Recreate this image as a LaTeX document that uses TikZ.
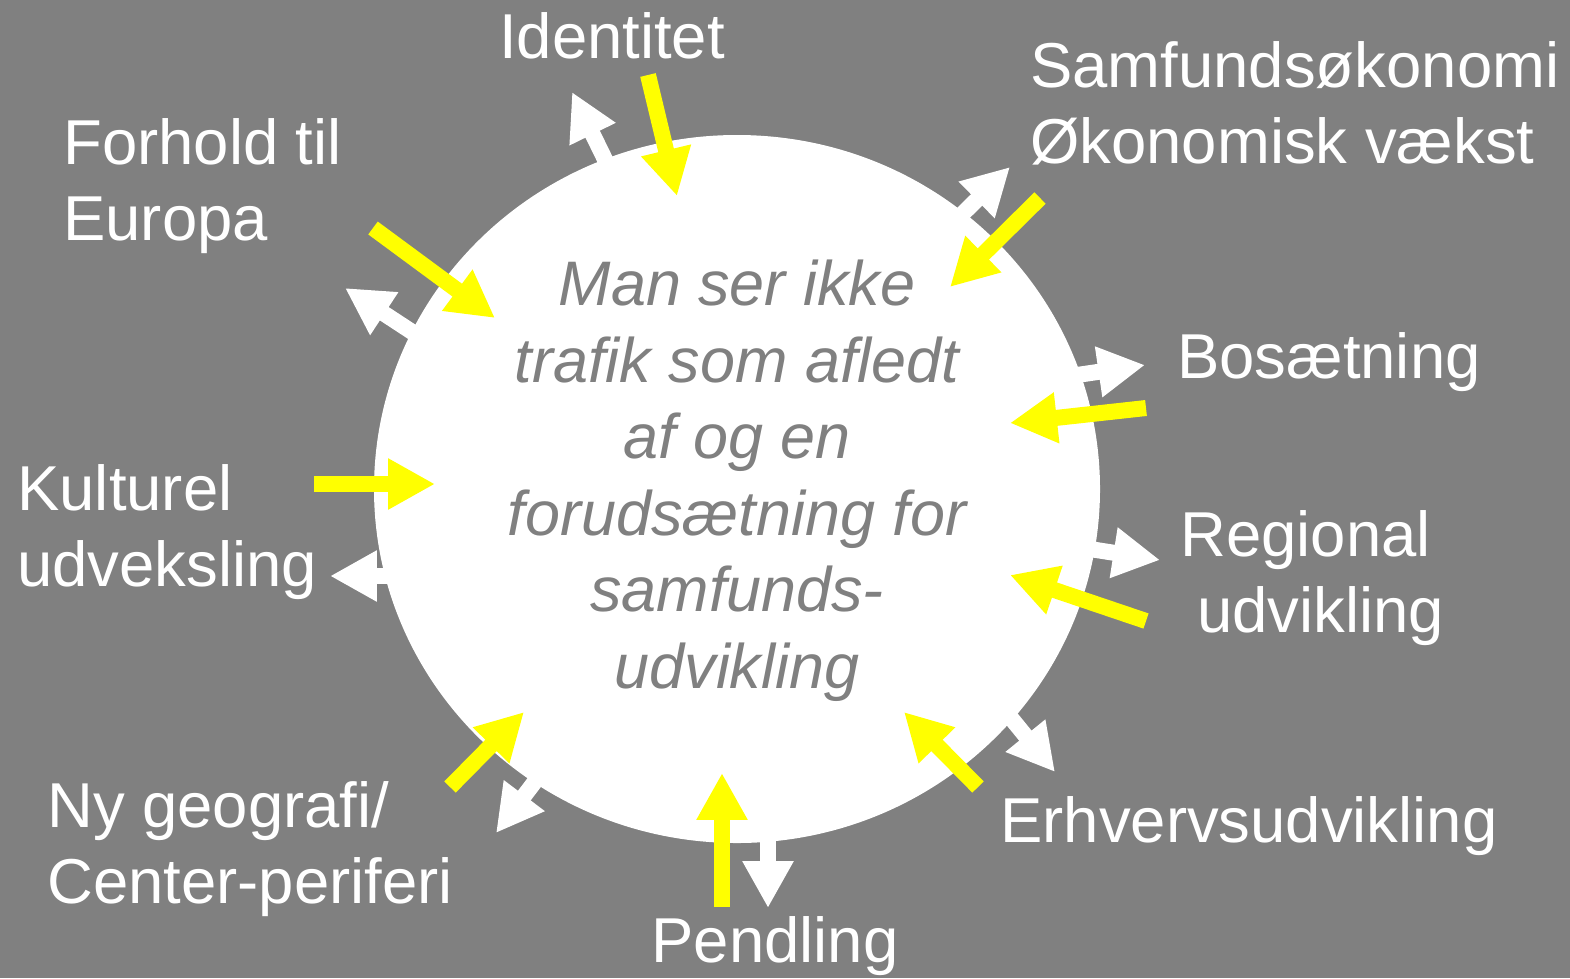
\documentclass[tikz,border=0pt]{standalone}
\usepackage{fontspec}
\setmainfont{Liberation Sans}
\usetikzlibrary{arrows.meta,shapes.geometric}
\definecolor{bggrey}{HTML}{808080}
\definecolor{signyellow}{HTML}{FFFF00}

\begin{document}
\begin{tikzpicture}[x=0.2mm,y=-0.2mm]
	\tikzstyle{topic} = [text=white, inner sep=0pt, align=left, font=\fontsize{36.1}{43.2}\selectfont]
	\tikzstyle{message} = [text=bggrey, inner sep=0pt, align=center, font=\fontsize{35.8}{43.5}\selectfont\itshape]
	\tikzstyle{hub} = [ellipse, fill=white, inner sep=0pt, minimum width=145.2mm, minimum height=141.6mm]
	\tikzstyle{inarrow} = [draw=signyellow, line width=9.1pt, -{Triangle[width=27.3pt,length=26.7pt]}]
	\tikzstyle{outarrow} = [draw=white, line width=9.1pt, -{Triangle[width=27.3pt,length=26.7pt]}]
\useasboundingbox (0,0) rectangle (1570,978);
\fill [bggrey] (0,0) rectangle (1570,978);
\node [hub] at (737,489) (circ) {};
% ends of the arrows
\coordinate (idOut) at (617,184);   \coordinate (idOutTip) at (572,92);
\coordinate (samOut) at (936,240);  \coordinate (samOutTip) at (1010,167);
\coordinate (forOut) at (432,345);  \coordinate (forOutTip) at (345,288);
\coordinate (bosOut) at (1043,380); \coordinate (bosOutTip) at (1145,365);
\coordinate (kulOut) at (420,576);  \coordinate (kulOutTip) at (330,576);
\coordinate (regOut) at (1058,544); \coordinate (regOutTip) at (1160,560);
\coordinate (geoOut) at (552,759);  \coordinate (geoOutTip) at (496,833);
\coordinate (penOut) at (768,820);  \coordinate (penOutTip) at (768,908);
\coordinate (erhOut) at (989,691);  \coordinate (erhOutTip) at (1055,772);
\coordinate (idIn) at (648,75);     \coordinate (idInTip) at (677,196);
\coordinate (samIn) at (1040,198);  \coordinate (samInTip) at (950,287);
\coordinate (forIn) at (373,228);   \coordinate (forInTip) at (495,318);
\coordinate (bosIn) at (1146,408);  \coordinate (bosInTip) at (1010,423);
\coordinate (kulIn) at (314,484);   \coordinate (kulInTip) at (435,484);
\coordinate (regIn) at (1146,621);  \coordinate (regInTip) at (1010,575);
\coordinate (geoIn) at (450,787);   \coordinate (geoInTip) at (524,712);
\coordinate (penIn) at (722,907);   \coordinate (penInTip) at (722,773);
\coordinate (erhIn) at (978,787);   \coordinate (erhInTip) at (904,712);
\path [outarrow] (idOut) -- (idOutTip);
\path [outarrow] (samOut) -- (samOutTip);
\path [outarrow] (forOut) -- (forOutTip);
\path [outarrow] (bosOut) -- (bosOutTip);
\path [outarrow] (kulOut) -- (kulOutTip);
\path [outarrow] (regOut) -- (regOutTip);
\path [outarrow] (geoOut) -- (geoOutTip);
\path [outarrow] (penOut) -- (penOutTip);
\path [outarrow] (erhOut) -- (erhOutTip);
\path [inarrow] (idIn) -- (idInTip);
\path [inarrow] (samIn) -- (samInTip);
\path [inarrow] (forIn) -- (forInTip);
\path [inarrow] (bosIn) -- (bosInTip);
\path [inarrow] (kulIn) -- (kulInTip);
\path [inarrow] (regIn) -- (regInTip);
\path [inarrow] (geoIn) -- (geoInTip);
\path [inarrow] (penIn) -- (penInTip);
\path [inarrow] (erhIn) -- (erhInTip);
% multi-line nodes sit on the baseline of their last line
\node [message, anchor=base] at (737,688) (msg) {Man ser ikke\\trafik som afledt\\af og en\\forudsætning for\\samfunds-\\udvikling};
\node [topic, anchor=base] at (612,58) (identitet) {Identitet};
\node [topic, anchor=base west] at (1030,163) (samfund) {Samfundsøkonomi\\Økonomisk vækst};
\node [topic, anchor=base west] at (63,240) (europa) {Forhold til\\Europa};
\node [topic, anchor=base west] at (1177,378) (bosaet) {Bosætning};
\node [topic, anchor=base west] at (17,586) (kultur) {Kulturel\\udveksling};
\node [topic, anchor=base west] at (1180,632) (region) {Regional\\\hspace*{3.4mm}udvikling};
\node [topic, anchor=base west] at (1000,842) (erhverv) {Erhvervsudvikling};
\node [topic, anchor=base west] at (47,903) (geografi) {Ny geografi/\\Center-periferi};
\node [topic, anchor=base] at (775,962) (pendling) {Pendling};
\end{tikzpicture}
\end{document}
